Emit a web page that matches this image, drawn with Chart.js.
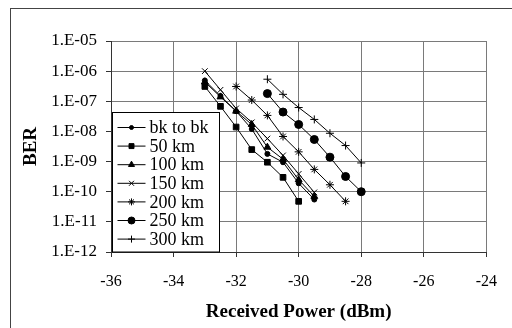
<!DOCTYPE html>
<html>
<head>
<meta charset="utf-8">
<script src="https://cdn.jsdelivr.net/npm/chart.js@4/dist/chart.umd.min.js"></script>
<style>
  html, body { margin: 0; padding: 0; background: #fff; }
  #wrap { width: 512px; height: 328px; position: relative; }
</style>
</head>
<body>
<div id="wrap"><canvas id="berChart" width="512" height="328"></canvas></div>
<script>
// received power (dBm) for each curve
const powerBk = [-33, -32.5, -32, -31.5, -31, -30.5, -30, -29.5];
const power50 = [-33, -32.5, -32, -31.5, -31, -30.5, -30];
const power100 = [-33, -32.5, -32, -31.5, -31, -30.5, -30, -29.5];
const power150 = [-33, -32.5, -32, -31.5, -31, -30.5, -30, -29.5];
const power200 = [-32, -31.5, -31, -30.5, -30, -29.5, -29, -28.5];
const power250 = [-31, -30.5, -30, -29.5, -29, -28.5, -28];
const power300 = [-31, -30.5, -30, -29.5, -29, -28.5, -28];

// bit error rate
const berBk = [4.9e-7, 1.5e-7, 4.7e-8, 1.2e-8, 1.8e-9, 9.5e-10, 1.9e-10, 5.5e-11];
const ber50 = [3.1e-7, 6.8e-8, 1.4e-8, 2.5e-9, 9.5e-10, 3.0e-10, 4.8e-11];
const ber100 = [4.4e-7, 1.4e-7, 4.7e-8, 1.7e-8, 3.0e-9, 1.2e-9, 2.5e-10, 7.0e-11];
const ber150 = [1.0e-6, 2.4e-7, 5.8e-8, 2.0e-8, 5.8e-9, 1.6e-9, 3.9e-10, 9.5e-11];
const ber200 = [3.1e-7, 1.1e-7, 3.4e-8, 6.8e-9, 2.1e-9, 5.5e-10, 1.7e-10, 4.8e-11];
const ber250 = [1.8e-7, 4.4e-8, 1.7e-8, 5.4e-9, 1.4e-9, 3.2e-10, 1.0e-10];
const ber300 = [5.4e-7, 1.7e-7, 6.2e-8, 2.5e-8, 8.7e-9, 3.4e-9, 9.0e-10];

const seriesNames = ['bk to bk', '50 km', '100 km', '150 km', '200 km', '250 km', '300 km'];
const xTicks = [-36, -34, -32, -30, -28, -26, -24];
const yTicks = [1e-12, 1e-11, 1e-10, 1e-9, 1e-8, 1e-7, 1e-6, 1e-5];

const markers = [
  { style: 'circle', r: 2.5 },
  { style: 'rect', r: 4 },
  { style: 'triangle', r: 4 },
  { style: 'crossRot', r: 4 },
  { style: 'star', r: 4 },
  { style: 'circle', r: 4 },
  { style: 'cross', r: 4 }
];

const SERIF = "'Liberation Serif', 'Times New Roman', serif";

function pts(xs, ys) {
  return xs.map((x, i) => ({ x: x, y: ys[i] }));
}

const allData = [
  pts(powerBk, berBk), pts(power50, ber50), pts(power100, ber100),
  pts(power150, ber150), pts(power200, ber200), pts(power250, ber250), pts(power300, ber300)
];

const datasets = seriesNames.map((name, i) => ({
  label: name,
  data: allData[i],
  borderColor: '#000',
  backgroundColor: '#000',
  borderWidth: 1,
  pointStyle: markers[i].style,
  pointRadius: markers[i].r,
  pointBorderWidth: 1,
  pointBorderColor: '#000',
  pointBackgroundColor: '#000',
  tension: 0
}));

// outer frame of the figure
const framePlugin = {
  id: 'frame',
  beforeDraw(chart) {
    const ctx = chart.ctx;
    ctx.save();
    ctx.fillStyle = '#fff';
    ctx.fillRect(0, 0, chart.width, chart.height);
    ctx.strokeStyle = '#444';
    ctx.lineWidth = 1;
    ctx.strokeRect(10.5, 8.5, 600, 400);
    ctx.restore();
  }
};

// boxed legend sitting inside the plot, like the original
const boxLegend = {
  id: 'boxLegend',
  afterDatasetsDraw(chart) {
    const ctx = chart.ctx;
    const area = chart.chartArea;
    const left = area.left + 1.5, top = 112.5;
    const w = 107, h = area.bottom - top;
    ctx.save();
    ctx.fillStyle = '#fff';
    ctx.fillRect(left, top, w, h);
    ctx.strokeStyle = '#000';
    ctx.lineWidth = 1;
    ctx.strokeRect(left, top, w, h);
    ctx.font = '18px ' + SERIF;
    ctx.textBaseline = 'middle';
    ctx.textAlign = 'left';
    seriesNames.forEach((name, i) => {
      const y = 127.5 + i * 18.6;
      ctx.strokeStyle = '#000';
      ctx.fillStyle = '#000';
      ctx.beginPath();
      ctx.moveTo(left + 5, y);
      ctx.lineTo(left + 33, y);
      ctx.stroke();
      Chart.helpers.drawPoint(ctx, {
        pointStyle: markers[i].style,
        radius: markers[i].r - 0.5,
        rotation: 0,
        borderWidth: 1
      }, left + 19, y);
      ctx.fillText(name, left + 37, y + 1);
    });
    ctx.restore();
  }
};

new Chart(document.getElementById('berChart').getContext('2d'), {
  type: 'line',
  data: { datasets: datasets },
  options: {
    responsive: false,
    animation: false,
    layout: { padding: { left: 16, top: 41, right: 17, bottom: 0 } },
    plugins: {
      legend: { display: false },
      tooltip: { enabled: false }
    },
    scales: {
      x: {
        type: 'linear',
        min: -36,
        max: -24,
        afterBuildTicks: s => { s.ticks = xTicks.map(v => ({ value: v })); },
        afterFit: s => { s.height = 76; },
        grid: { color: '#7a7a7a', tickLength: 5, tickColor: '#333' },
        border: { color: '#333' },
        ticks: {
          color: '#000',
          padding: 15,
          maxRotation: 0,
          font: { family: SERIF, size: 16 }
        },
        title: {
          display: true,
          text: 'Received Power (dBm)',
          color: '#000',
          padding: { top: 0, bottom: 5 },
          font: { family: SERIF, size: 19, weight: 'bold' }
        }
      },
      y: {
        type: 'logarithmic',
        min: 1e-12,
        max: 1e-5,
        afterBuildTicks: s => { s.ticks = yTicks.map(v => ({ value: v })); },
        afterFit: s => { s.width = 95; },
        grid: { color: '#7a7a7a', tickLength: 5, tickColor: '#333' },
        border: { color: '#333' },
        ticks: {
          color: '#000',
          padding: 9,
          font: { family: SERIF, size: 17 },
          callback: v => '1.E-' + String(-Math.round(Math.log10(v))).padStart(2, '0')
        },
        title: {
          display: true,
          text: 'BER',
          color: '#000',
          padding: { top: 4, bottom: 4 },
          font: { family: SERIF, size: 19, weight: 'bold' }
        }
      }
    }
  },
  plugins: [framePlugin, boxLegend]
});
</script>
</body>
</html>
